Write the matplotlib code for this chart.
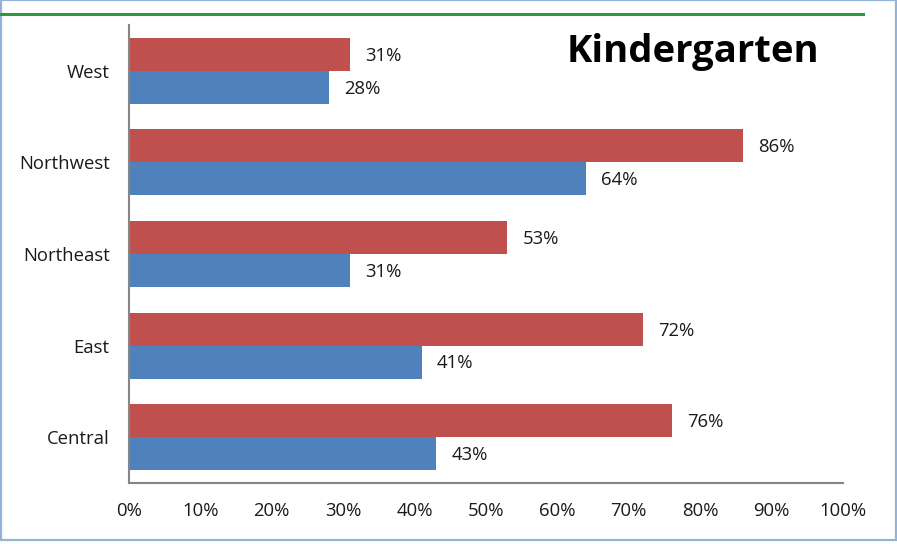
import matplotlib
matplotlib.use("Agg")
import matplotlib.pyplot as plt
from matplotlib.lines import Line2D
from matplotlib.patches import Rectangle
import numpy as np

categories = ["Central", "East", "Northeast", "Northwest", "West"]
red_values = [76, 72, 53, 86, 31]
blue_values = [43, 41, 31, 64, 28]
xticks = [0, 10, 20, 30, 40, 50, 60, 70, 80, 90, 100]
xtick_labels = [f"{v}%" for v in xticks]
title = "Kindergarten"

plt.rcParams['font.family'] = ['Open Sans', 'DejaVu Sans']

W, H = 897, 544
fig = plt.figure(figsize=(W / 100, H / 100), dpi=100)
ax = fig.add_axes([129 / W, (H - 483) / H, (843 - 129) / W, (483 - 25) / H])

y = np.arange(len(categories))
bh = 0.36
red_col = "#C0504D"
blue_col = "#4F81BD"
ax.barh(y + bh / 2, red_values, height=bh, color=red_col, edgecolor="none")
ax.barh(y - bh / 2, blue_values, height=bh, color=blue_col, edgecolor="none")

fs = 13.3
for yi, v in zip(y, red_values):
    ax.annotate(f"{v}%", (v, yi + bh / 2), xytext=(11, -1), textcoords="offset points",
                va="center", ha="left", fontsize=fs, color="#1a1a1a")
for yi, v in zip(y, blue_values):
    ax.annotate(f"{v}%", (v, yi - bh / 2), xytext=(11, -1), textcoords="offset points",
                va="center", ha="left", fontsize=fs, color="#1a1a1a")

ax.set_xlim(0, 100)
ax.set_ylim(-0.5, 4.5)
ax.set_xticks(xticks)
ax.set_xticklabels(xtick_labels, fontsize=fs, color="#1a1a1a")
ax.set_yticks(y)
ax.set_yticklabels(categories, fontsize=fs, color="#1a1a1a")
ax.tick_params(axis="both", length=0)
ax.tick_params(axis="x", pad=14)
ax.tick_params(axis="y", pad=14)
for s in ["top", "right"]:
    ax.spines[s].set_visible(False)
for s in ["left", "bottom"]:
    ax.spines[s].set_color("#868686")
    ax.spines[s].set_linewidth(1.5)

fig.text(819 / W, (H - 52) / H, title, ha="right", va="center",
         fontsize=27.5, fontweight="bold", color="black")

# frame and green top rule
fig.add_artist(Rectangle((0.5 / W, 4.5 / H), (W - 1.5) / W, (H - 4) / H, transform=fig.transFigure,
                         fill=False, edgecolor="#95B3D7", linewidth=1.6))
fig.add_artist(Line2D([0, 863 / W], [(H - 13.5) / H] * 2, transform=fig.transFigure,
                      color="#2E9A3F", linewidth=2.2))

fig.savefig("out.png", dpi=100)
